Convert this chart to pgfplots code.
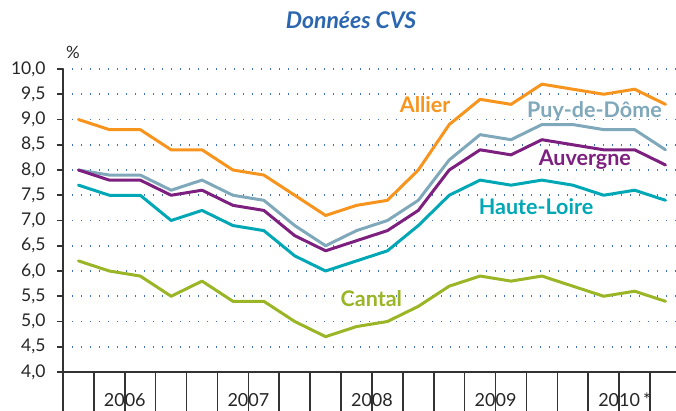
\documentclass[border=0pt]{standalone}
\usepackage{fontspec}
\setmainfont{Lato}
\usepackage{pgfplots}
\usepackage{pgfplotstable}
\pgfplotsset{compat=1.18}
\definecolor{cAllier}{HTML}{F7941D}
\definecolor{cPuy}{HTML}{7FA8BA}
\definecolor{cAuv}{HTML}{7D1F7E}
\definecolor{cHL}{HTML}{00A7B5}
\definecolor{cCantal}{HTML}{9AB526}
\definecolor{cTitle}{HTML}{2B66B0}
\definecolor{gridblue}{HTML}{3F72C8}
\definecolor{axisgray}{HTML}{333333}

\pgfplotstableread{
q     allier puy  auv  hl   cantal
0.5   9.0    8.0  8.0  7.7  6.2
1.5   8.8    7.9  7.8  7.5  6.0
2.5   8.8    7.9  7.8  7.5  5.9
3.5   8.4    7.6  7.5  7.0  5.5
4.5   8.4    7.8  7.6  7.2  5.8
5.5   8.0    7.5  7.3  6.9  5.4
6.5   7.9    7.4  7.2  6.8  5.4
7.5   7.5    6.9  6.7  6.3  5.0
8.5   7.1    6.5  6.4  6.0  4.7
9.5   7.3    6.8  6.6  6.2  4.9
10.5  7.4    7.0  6.8  6.4  5.0
11.5  8.0    7.4  7.2  6.9  5.3
12.5  8.9    8.2  8.0  7.5  5.7
13.5  9.4    8.7  8.4  7.8  5.9
14.5  9.3    8.6  8.3  7.7  5.8
15.5  9.7    8.9  8.6  7.8  5.9
16.5  9.6    8.9  8.5  7.7  5.7
17.5  9.5    8.8  8.4  7.5  5.5
18.5  9.6    8.8  8.4  7.6  5.6
19.5  9.3    8.4  8.1  7.4  5.4
}\datatable

\begin{document}
\begin{tikzpicture}
\begin{axis}[
  scale only axis,
  width=613pt, height=303pt,
  xmin=0, xmax=19.84, ymin=4, ymax=10,
  axis x line=bottom, axis y line=left,
  axis line style={-, draw=axisgray, line width=1.6pt},
  xtick=\empty,
  ytick={4,4.5,5,5.5,6,6.5,7,7.5,8,8.5,9,9.5,10},
  ymajorgrids,
  grid style={dash pattern=on 1.4pt off 7.6pt, line width=1.6pt, draw=gridblue},
  tick align=outside,
  major tick length=6pt,
  tick style={draw=axisgray, line width=1.6pt},
  yticklabel style={font=\fontsize{17.5}{17.5}\selectfont, text=black!85, xshift=-8pt},
  /pgf/number format/fixed,
  /pgf/number format/fixed zerofill,
  /pgf/number format/precision=1,
  /pgf/number format/use comma,
  /pgf/number format/assume math mode=true,
  clip=false,
  every axis plot/.append style={line width=3pt, line join=round, line cap=round},
]
\addplot[cCantal] table[x=q, y=cantal] {\datatable};
\addplot[cHL] table[x=q, y=hl] {\datatable};
\addplot[cPuy] table[x=q, y=puy] {\datatable};
\addplot[cAuv] table[x=q, y=auv] {\datatable};
\addplot[cAllier] table[x=q, y=allier] {\datatable};

\pgfplotsinvokeforeach{1,2,3,5,6,7,9,10,11,13,14,15,17,18,19}{
  \draw[axisgray, line width=1.6pt] (axis cs:#1,4) -- ++(0,-14pt);
}
\pgfplotsinvokeforeach{0,4,8,12,16}{
  \draw[axisgray, line width=1.6pt] (axis cs:#1,4) -- ++(0,-29pt);
}

\node[anchor=base, yshift=-34pt, font=\fontsize{18}{18}\selectfont, text=black!85] at (axis cs:2,4) {2006};
\node[anchor=base, yshift=-34pt, font=\fontsize{18}{18}\selectfont, text=black!85] at (axis cs:6,4) {2007};
\node[anchor=base, yshift=-34pt, font=\fontsize{18}{18}\selectfont, text=black!85] at (axis cs:10,4) {2008};
\node[anchor=base, yshift=-34pt, font=\fontsize{18}{18}\selectfont, text=black!85] at (axis cs:14,4) {2009};
\node[anchor=base, yshift=-34pt, font=\fontsize{18}{18}\selectfont, text=black!85] at (axis cs:18,4) {2010\rlap{\,*}};

\node[anchor=base, font=\bfseries\fontsize{21.5}{21.5}\selectfont, text=cAllier] at (axis cs:11.72,9.13) {Allier};
\node[anchor=base, font=\bfseries\fontsize{21.5}{21.5}\selectfont, text=cPuy] at (axis cs:17.2,9.03) {Puy-de-Dôme};
\node[anchor=base, font=\bfseries\fontsize{21.5}{21.5}\selectfont, text=cAuv] at (axis cs:16.89,8.09) {Auvergne};
\node[anchor=base, font=\bfseries\fontsize{21.5}{21.5}\selectfont, text=cHL] at (axis cs:15.31,7.11) {Haute-Loire};
\node[anchor=base, font=\bfseries\fontsize{21.5}{21.5}\selectfont, text=cCantal] at (axis cs:9.98,5.29) {Cantal};
\end{axis}
\node[font=\bfseries\itshape\fontsize{23}{23}\selectfont, text=cTitle] at (288pt,352pt) {Données CVS};
\node[font=\fontsize{17}{17}\selectfont, text=black!85] at (10pt,320pt) {\%};
\pgfresetboundingbox
\path (-63pt,-38pt) rectangle (613pt,372pt);
\end{tikzpicture}
\end{document}
